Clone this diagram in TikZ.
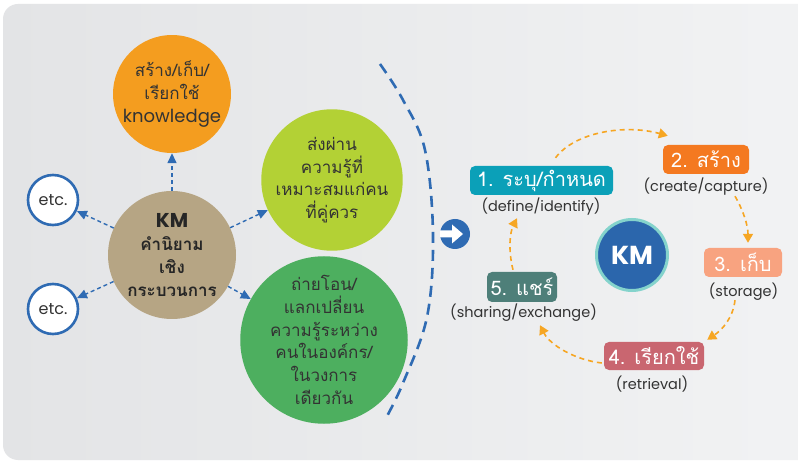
\documentclass[tikz,border=0pt]{standalone}
\usepackage{fontspec}
\setmainfont{Poppins}
\newfontfamily\thfont[Script=Thai]{Loma}
\usetikzlibrary{arrows.meta}

\definecolor{panelL}{HTML}{E3E4E6}
\definecolor{panelR}{HTML}{F2F3F4}
\definecolor{kmblue}{HTML}{2F6BB3}
\definecolor{txtdark}{HTML}{333333}
\definecolor{cOrange}{HTML}{F49D1F}
\definecolor{cLime}{HTML}{B3D135}
\definecolor{cGreen}{HTML}{4DAF5F}
\definecolor{cTan}{HTML}{B6A584}
\definecolor{sTeal}{HTML}{0BA0B8}
\definecolor{sOrange}{HTML}{F47920}
\definecolor{sSalmon}{HTML}{F8A380}
\definecolor{sRose}{HTML}{C96670}
\definecolor{sSlate}{HTML}{4E7F79}
\definecolor{cycorange}{HTML}{F6A623}
\definecolor{kmcore}{HTML}{2B66AC}
\definecolor{kmring}{HTML}{84D3CC}

\begin{document}
\begin{tikzpicture}[x=1pt,y=-1pt,
  bubble/.style={circle, inner sep=0pt, align=center, text=txtdark,
    font=\thfont\fontsize{17}{22.7}\selectfont},
  etcnode/.style={circle, draw=kmblue, line width=2.6pt, fill=white,
    minimum size=50pt, inner sep=0pt, text=txtdark, font=\fontsize{16}{18}\selectfont},
  kmarrow/.style={draw=kmblue, line width=1.4pt, dash pattern=on 4pt off 3pt,
    -{Triangle[length=10pt,width=9pt]}},
  cyclearrow/.style={draw=cycorange, line width=1.6pt, dash pattern=on 5pt off 4pt,
    -{Triangle[length=9pt,width=10pt]}},
  stepbox/.style={rounded corners=5pt, inner sep=0pt, text=white,
    font=\thfont\fontsize{20}{22}\selectfont},
  steplabel/.style={inner sep=0pt, text=txtdark, font=\fontsize{14.5}{16}\selectfont}
]
\useasboundingbox (0,0) rectangle (798,462);
\fill[white] (0,0) rectangle (798,462);
% background panel
\shade[left color=panelL, right color=panelR, rounded corners=15pt]
  (3,4) rectangle (830,460);

% ---- left part: process-oriented definition of KM ----
\node[bubble, fill=cTan, minimum size=128pt, text=black!85,
  font=\thfont\bfseries\fontsize{17}{22.7}\selectfont] (kmdef) at (172,255)
  {{\rmfamily\fontsize{20}{22.7}\selectfont KM}\\คำนิยาม\\เชิง\\กระบวนการ};
\node[bubble, fill=cOrange, minimum size=115pt] (store) at (172,94)
  {สร้าง/เก็บ/\\เรียกใช้\\{\rmfamily\fontsize{18}{22.7}\selectfont knowledge}};
\node[bubble, fill=cLime, minimum size=126pt] (transfer) at (332,180)
  {ส่งผ่าน\\ความรู้ที่\\เหมาะสมแก่คน\\ที่คู่ควร};
\node[bubble, fill=cGreen, minimum size=152pt] (exchange) at (324,340)
  {ถ่ายโอน/\\แลกเปลี่ยน\\ความรู้ระหว่าง\\คนในองค์กร/\\ในวงการ\\เดียวกัน};
\node[etcnode] (etc1) at (53,200) {etc.};
\node[etcnode] (etc2) at (53,309) {etc.};

\draw[kmarrow] (kmdef) -- (store);
\draw[kmarrow] (kmdef) -- (etc1);
\draw[kmarrow] (kmdef) -- (etc2);
\draw[kmarrow] (kmdef) -- (transfer);
\draw[kmarrow] (kmdef) -- (exchange);

% dashed divider
\draw[kmblue, line width=2.6pt, dash pattern=on 11pt off 7pt]
  plot[smooth, tension=0.6] coordinates
  {(380,64) (403,100) (425,150) (433,235) (427,317) (403,383) (386,418)};

% arrow icon
\node[circle, fill=kmblue, minimum size=30pt, inner sep=0pt] (go) at (455,234) {};
\begin{scope}[shift={(go.center)}]
  \fill[white] (-15,-3.5) -- (-3,-3.5) -- (-3,-9.5) -- (8,0) -- (-3,9.5)
    -- (-3,3.5) -- (-15,3.5) -- cycle;
\end{scope}

% ---- right part: KM cycle ----
\node[circle, fill=kmcore, draw=kmring, line width=3pt, minimum size=71pt,
  inner sep=0pt, text=white, font=\bfseries\fontsize{26}{28}\selectfont]
  (kmc) at (632,255) {KM};

\node[stepbox, fill=sTeal, minimum width=143pt, minimum height=29pt]
  (b1) at (541.5,180.5) {1. ระบุ/กำหนด};
\node[stepbox, fill=sOrange, minimum width=86pt, minimum height=29pt]
  (b2) at (706,159.5) {2. สร้าง};
\node[stepbox, fill=sSalmon, minimum width=78pt, minimum height=29pt]
  (b3) at (743,262.5) {3. เก็บ};
\node[stepbox, fill=sRose, minimum width=100pt, minimum height=28pt]
  (b4) at (654,356) {4. เรียกใช้};
\node[stepbox, fill=sSlate, minimum width=70pt, minimum height=30pt]
  (b5) at (522,287) {5. แชร์};

\node[steplabel] (l1) at (541,207) {(define/identify)};
\node[steplabel] (l2) at (706,187) {(create/capture)};
\node[steplabel] (l3) at (743.5,292) {(storage)};
\node[steplabel] (l4) at (652,384) {(retrieval)};
\node[steplabel] (l5) at (523.5,313) {(sharing/exchange)};

\draw[cyclearrow] ([xshift=14pt,yshift=8pt]b1.north)
  .. controls (575,132) and (625,124) .. ([xshift=5pt,yshift=9pt]b2.north west);
\draw[cyclearrow] ([xshift=29pt,yshift=-22pt]b2.south)
  .. controls (743,210) and (748,225) .. ([xshift=5pt,yshift=5pt]b3.north);
\draw[cyclearrow] ([xshift=-8pt,yshift=-23pt]b3.south)
  .. controls (733,318) and (722,330) .. ([xshift=3pt,yshift=2pt]b4.north east);
\draw[cyclearrow] ([xshift=-2pt,yshift=-7pt]b4.west)
  .. controls (575,360) and (550,345) .. ([xshift=18pt,yshift=-23pt]b5.south);
\draw[cyclearrow] ([xshift=-9pt,yshift=2pt]b5.north)
  .. controls (508,250) and (510,232) .. ([xshift=-24.5pt,yshift=-23pt]b1.south);
\end{tikzpicture}
\end{document}
